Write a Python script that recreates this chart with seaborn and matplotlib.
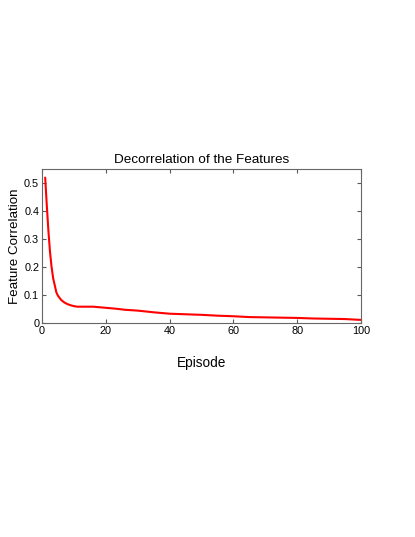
import numpy as np
import pandas as pd
import seaborn as sns
import matplotlib
matplotlib.use("Agg")
import matplotlib.pyplot as plt
from matplotlib.ticker import FormatStrFormatter

# values
episodes = [1, 1.5, 2, 2.5, 3, 3.5, 4, 4.5, 5, 6, 7, 8, 9, 10, 11, 13, 16, 18,
            20, 23, 26, 30, 35, 40, 45, 50, 55, 60, 65, 70, 75, 80, 85, 90, 95, 100]
correlation = [0.518, 0.42, 0.33, 0.255, 0.2, 0.16, 0.135, 0.11, 0.098, 0.083,
               0.074, 0.068, 0.064, 0.061, 0.059, 0.059, 0.059, 0.057,
               0.055, 0.052, 0.048, 0.045, 0.039, 0.034, 0.032, 0.030, 0.027,
               0.025, 0.022, 0.021, 0.020, 0.019, 0.017, 0.016, 0.015, 0.012]

df = pd.DataFrame({"Episode": episodes, "Feature Correlation": correlation})

sns.set_style("ticks")
plt.rcParams['font.family'] = ['Liberation Sans', 'DejaVu Sans']
plt.rcParams['text.color'] = 'black'
plt.rcParams['axes.labelcolor'] = 'black'
plt.rcParams['xtick.labelcolor'] = 'black'
plt.rcParams['ytick.labelcolor'] = 'black'

fig = plt.figure(figsize=(4.15, 5.37), dpi=100)
ax = fig.add_axes([0.1012, 0.398, 0.7688, 0.288])

sns.lineplot(data=df, x="Episode", y="Feature Correlation",
             color="red", linewidth=1.5, ax=ax)

ax.set_xlim(0, 100)
ax.set_ylim(0, 0.55)
ax.set_xticks(np.arange(0, 101, 20))
ax.set_yticks(np.arange(0, 0.51, 0.1))
ax.yaxis.set_major_formatter(FormatStrFormatter('%g'))
ax.tick_params(direction='in', length=3, width=0.8, top=True, right=True,
               labelsize=7.8, color='0.35', pad=2)
for s in ax.spines.values():
    s.set_color('0.4')
    s.set_linewidth(0.8)

ax.set_title("Decorrelation of the Features", fontsize=9.7, pad=4)
ax.set_xlabel("Episode", fontsize=9.8)
ax.set_ylabel("Feature Correlation", fontsize=9.6)
ax.xaxis.set_label_coords(0.5, -0.257)
ax.xaxis.label.set_va('center')
ax.yaxis.set_label_coords(-0.084, 0.5)
ax.yaxis.label.set_va('center')

plt.savefig("out.png", dpi=100)
